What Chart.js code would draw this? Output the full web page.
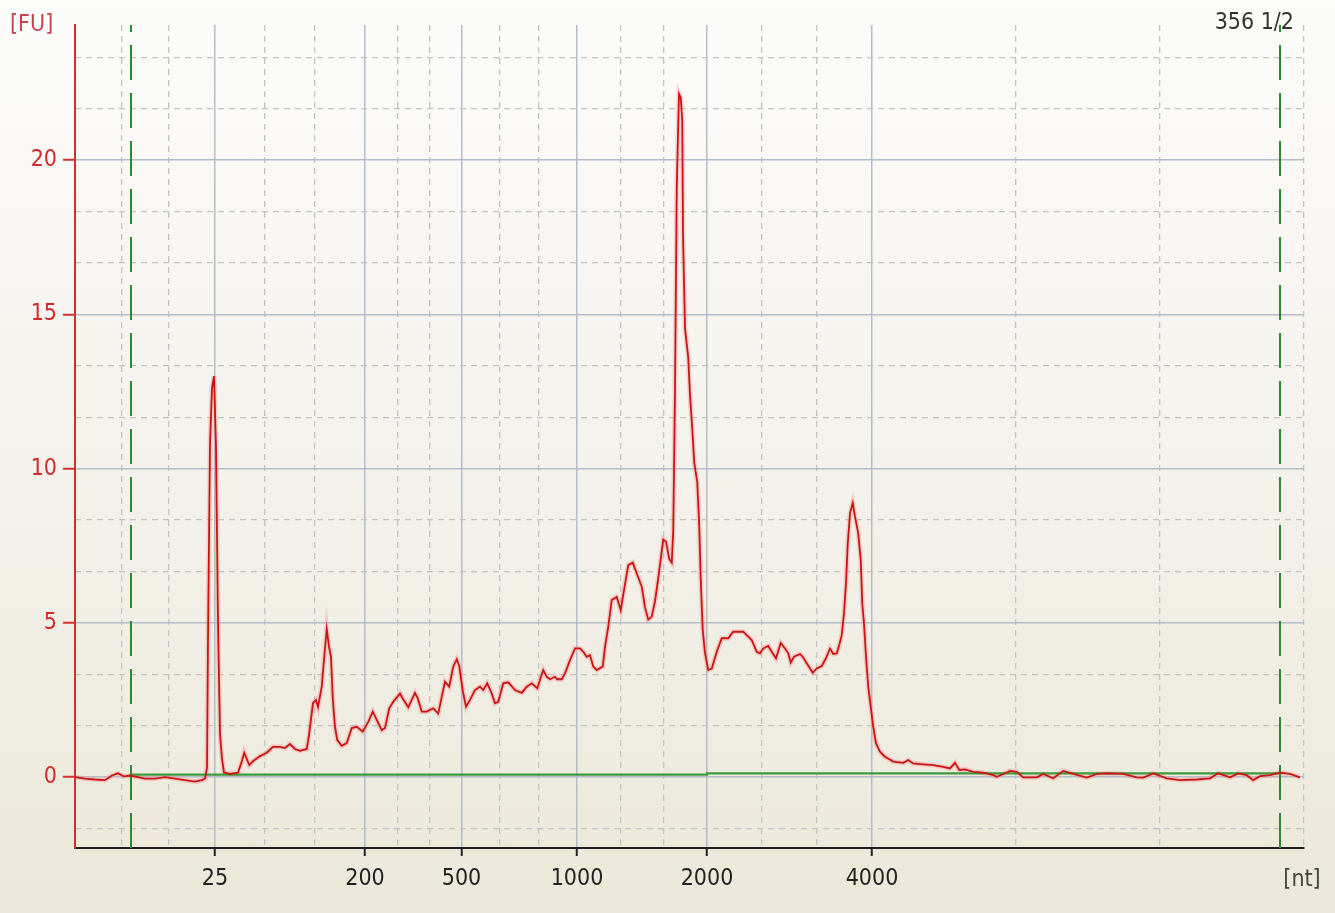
<!DOCTYPE html>
<html>
<head>
<meta charset="utf-8">
<title>Electropherogram</title>
<script src="https://cdn.jsdelivr.net/npm/chart.js@4.4.1/dist/chart.umd.min.js"></script>
<style>
    html, body { margin: 0; padding: 0; }
    body {
        width: 1335px;
        height: 913px;
        overflow: hidden;
        background: linear-gradient(to bottom, #fcfcfb 0%, #f4f2ec 50%, #ebe8d9 100%);
    }
    canvas { display: block; }
</style>
</head>
<body>
<canvas id="chart" width="1335" height="913"></canvas>
<script>
// migration time (s) and fluorescence (FU)
const traceTime = [
    20.00, 20.40, 20.80, 21.20, 21.48, 21.72, 21.96, 22.20, 22.52, 22.80,
    23.20, 23.60, 24.00, 24.40, 24.80, 25.08, 25.20, 25.28, 25.32, 25.40,
    25.48, 25.56, 25.64, 25.72, 25.80, 25.88, 25.96, 26.20, 26.52, 26.67,
    26.77, 26.97, 27.13, 27.40, 27.67, 27.92, 28.20, 28.40, 28.60, 28.80,
    29.00, 29.27, 29.36, 29.52, 29.64, 29.72, 29.87, 29.97, 30.07, 30.16,
    30.24, 30.31, 30.40, 30.49, 30.67, 30.87, 31.07, 31.27, 31.51, 31.73,
    31.91, 32.07, 32.27, 32.40, 32.57, 32.73, 33.00, 33.13, 33.33, 33.60,
    33.71, 33.87, 34.07, 34.33, 34.53, 34.67, 34.80, 34.97, 35.13, 35.27,
    35.37, 35.51, 35.64, 35.80, 36.00, 36.20, 36.33, 36.49, 36.67, 36.80,
    36.93, 37.13, 37.33, 37.60, 37.87, 38.07, 38.27, 38.49, 38.73, 38.87,
    39.00, 39.20, 39.29, 39.47, 39.60, 39.80, 40.00, 40.20, 40.33, 40.47,
    40.60, 40.73, 40.87, 41.11, 41.20, 41.33, 41.47, 41.67, 41.83, 41.96,
    42.13, 42.31, 42.47, 42.67, 42.80, 42.93, 43.07, 43.20, 43.33, 43.53,
    43.64, 43.77, 43.87, 43.93, 44.00, 44.07, 44.16, 44.23, 44.29, 44.32,
    44.40, 44.53, 44.60, 44.69, 44.77, 44.89, 44.97, 45.03, 45.11, 45.20,
    45.33, 45.47, 45.67, 45.87, 46.13, 46.33, 46.73, 46.87, 47.07, 47.27,
    47.40, 47.53, 47.73, 47.87, 48.04, 48.23, 48.40, 48.53, 48.63, 48.76,
    49.00, 49.11, 49.27, 49.51, 49.67, 49.87, 50.04, 50.20, 50.33, 50.47,
    50.57, 50.67, 50.76, 50.84, 50.91, 51.00, 51.11, 51.20, 51.33, 51.43,
    51.49, 51.56, 51.64, 51.73, 51.83, 51.93, 52.04, 52.20, 52.40, 52.73,
    53.13, 53.33, 53.53, 53.80, 54.33, 54.73, 55.00, 55.20, 55.37, 55.60,
    55.93, 56.33, 56.73, 56.87, 57.13, 57.40, 57.67, 57.93, 58.47, 58.73,
    59.13, 59.53, 59.93, 60.47, 60.87, 61.27, 61.93, 62.47, 62.73, 63.13,
    63.67, 64.20, 64.87, 65.40, 65.73, 66.20, 66.53, 66.87, 67.13, 67.40,
    67.80, 68.20, 68.60, 69.00
];
const traceFU = [
    0.00, -0.05, -0.08, -0.10, 0.05, 0.12, 0.02, 0.05, 0.00, -0.05,
    -0.05, 0.00, -0.05, -0.10, -0.15, -0.10, -0.05, 0.30, 4.50, 10.80,
    12.60, 13.00, 10.70, 5.00, 1.40, 0.60, 0.15, 0.10, 0.14, 0.50,
    0.79, 0.39, 0.52, 0.68, 0.79, 0.98, 0.98, 0.94, 1.07, 0.91,
    0.85, 0.91, 1.36, 2.40, 2.50, 2.27, 2.93, 3.90, 4.80, 4.22,
    3.90, 2.56, 1.63, 1.20, 1.01, 1.10, 1.59, 1.63, 1.47, 1.79,
    2.12, 1.85, 1.52, 1.59, 2.23, 2.44, 2.71, 2.52, 2.26, 2.73,
    2.55, 2.12, 2.12, 2.23, 2.06, 2.60, 3.09, 2.93, 3.58, 3.82,
    3.60, 2.80, 2.28, 2.50, 2.82, 2.93, 2.82, 3.04, 2.71, 2.39,
    2.44, 3.04, 3.07, 2.82, 2.73, 2.93, 3.04, 2.88, 3.47, 3.25,
    3.17, 3.25, 3.17, 3.17, 3.36, 3.79, 4.17, 4.17, 4.06, 3.90,
    3.95, 3.58, 3.47, 3.58, 4.22, 4.87, 5.74, 5.84, 5.41, 6.06,
    6.87, 6.95, 6.60, 6.17, 5.50, 5.10, 5.20, 5.70, 6.45, 7.70,
    7.63, 7.07, 6.95, 8.00, 12.50, 19.10, 22.15, 22.03, 21.28, 17.60,
    14.55, 13.60, 12.38, 11.30, 10.19, 9.56, 8.14, 6.39, 4.76, 4.02,
    3.47, 3.52, 4.06, 4.50, 4.50, 4.71, 4.71, 4.60, 4.44, 4.06,
    4.01, 4.17, 4.25, 4.06, 3.85, 4.35, 4.17, 4.01, 3.71, 3.90,
    3.99, 3.90, 3.69, 3.38, 3.52, 3.60, 3.85, 4.17, 3.99, 4.01,
    4.28, 4.60, 5.31, 6.28, 7.57, 8.55, 8.89, 8.44, 7.90, 7.03,
    5.63, 4.98, 3.90, 2.93, 2.28, 1.63, 1.09, 0.82, 0.66, 0.50,
    0.46, 0.55, 0.44, 0.42, 0.39, 0.33, 0.28, 0.46, 0.23, 0.25,
    0.17, 0.14, 0.06, 0.01, 0.10, 0.20, 0.17, -0.01, -0.01, 0.10,
    -0.04, 0.20, 0.10, -0.02, 0.10, 0.12, 0.10, -0.01, -0.02, 0.12,
    -0.04, -0.10, -0.08, -0.04, 0.12, -0.01, 0.12, 0.06, -0.10, 0.03,
    0.06, 0.14, 0.10, -0.01
];

// ladder sizes (nt) and where they sit on the time axis
const ladderSizes = ['25', '200', '500', '1000', '2000', '4000'];
const ladderTimes = [25.60, 31.60, 35.46, 40.08, 45.28, 51.88];
const minorTimes = [21.87, 23.73, 27.60, 29.60, 32.89, 34.17, 37.00, 38.54,
                    41.81, 43.55, 47.48, 49.68, 57.64, 63.40, 69.16];

// y ticks
const fuTicks = [0, 5, 10, 15, 20];

// lower / upper marker and baseline
const markerTimes = [22.24, 68.20];
const baselineTimes = [22.24, 45.28, 45.28, 68.20];
const baselineFU = [0.08, 0.08, 0.12, 0.12];

const xMin = 20, xMax = 69.16;
const yMin = -2.30, yMax = 24.38;

const fontFamily = "'DejaVu Sans Condensed', 'DejaVu Sans', sans-serif";

// dashed minor lines every 5/3 FU, leaving out the major ones
const fuMinor = [];
for (let k = -1; k <= 14; k++) {
    if (k % 3 !== 0) fuMinor.push(k * 5 / 3);
}

const tracePoints = traceTime.map((t, i) => ({ x: t, y: traceFU[i] }));

const cornerText = {
    id: 'cornerText',
    afterDraw(chart) {
        const ctx = chart.ctx;
        ctx.save();
        ctx.font = '23px ' + fontFamily;
        ctx.textBaseline = 'middle';
        ctx.fillStyle = '#c9404f';
        ctx.textAlign = 'left';
        ctx.fillText('[FU]', 10, 25);
        ctx.fillStyle = '#333333';
        ctx.textAlign = 'right';
        ctx.fillText('356 1/2', 1294, 23);
        ctx.fillStyle = '#444444';
        ctx.textAlign = 'center';
        ctx.fillText('[nt]', 1302, 880);
        ctx.restore();
    }
};

const ctx = document.getElementById('chart').getContext('2d');
new Chart(ctx, {
    type: 'line',
    data: {
        datasets: [
            {
                label: 'trace',
                data: tracePoints,
                borderColor: '#c91414',
                borderWidth: 1.8,
                pointRadius: 0,
                tension: 0,
                order: 0
            },
            {
                label: 'halo',
                data: tracePoints,
                borderColor: 'rgba(245, 140, 140, 0.35)',
                borderWidth: 5,
                pointRadius: 0,
                tension: 0,
                order: 3
            },
            {
                label: 'baseline',
                data: baselineTimes.map((t, i) => ({ x: t, y: baselineFU[i] })),
                borderColor: '#3c9a3c',
                borderWidth: 2.2,
                pointRadius: 0,
                order: 1
            },
            {
                label: 'lower marker',
                data: [{ x: markerTimes[0], y: yMin }, { x: markerTimes[0], y: yMax }],
                borderColor: '#2f872f',
                borderWidth: 2,
                borderDash: [35, 13],
                pointRadius: 0,
                order: 2
            },
            {
                label: 'upper marker',
                data: [{ x: markerTimes[1], y: yMin }, { x: markerTimes[1], y: yMax }],
                borderColor: '#2f872f',
                borderWidth: 2,
                borderDash: [35, 13],
                pointRadius: 0,
                order: 2
            }
        ]
    },
    options: {
        responsive: false,
        animation: false,
        layout: { padding: { left: 0, top: 25, right: 31, bottom: 0 } },
        plugins: {
            legend: { display: false },
            tooltip: { enabled: false }
        },
        scales: {
            x: {
                type: 'linear',
                position: 'bottom',
                min: xMin,
                max: xMax,
                afterBuildTicks: s => { s.ticks = ladderTimes.map(v => ({ value: v })); },
                afterFit: s => { s.height = 65; },
                ticks: {
                    autoSkip: false,
                    maxRotation: 0,
                    color: '#222222',
                    padding: 9,
                    font: { family: fontFamily, size: 23 },
                    callback: (v, i) => ladderSizes[i]
                },
                grid: {
                    color: '#b3bdca',
                    lineWidth: 1.5,
                    tickColor: '#222222',
                    tickLength: 8,
                    tickWidth: 2
                },
                border: { color: '#1e1e1e', width: 2 }
            },
            xMinor: {
                type: 'linear',
                position: 'bottom',
                min: xMin,
                max: xMax,
                afterBuildTicks: s => { s.ticks = minorTimes.map(v => ({ value: v })); },
                afterFit: s => { s.height = 0; },
                ticks: { display: false },
                grid: { color: '#c2c2c2', lineWidth: 1.3, drawTicks: false },
                border: { display: false, dash: [6, 5] }
            },
            y: {
                type: 'linear',
                position: 'left',
                min: yMin,
                max: yMax,
                afterBuildTicks: s => { s.ticks = fuTicks.map(v => ({ value: v })); },
                afterFit: s => { s.width = 75; },
                ticks: {
                    color: '#d02a2a',
                    padding: 6,
                    font: { family: fontFamily, size: 23 }
                },
                grid: {
                    color: '#b3bdca',
                    lineWidth: 1.5,
                    tickColor: '#d03030',
                    tickLength: 12,
                    tickWidth: 2
                },
                border: { color: '#d03030', width: 2 }
            },
            yMinor: {
                type: 'linear',
                position: 'left',
                min: yMin,
                max: yMax,
                afterBuildTicks: s => { s.ticks = fuMinor.map(v => ({ value: v })); },
                afterFit: s => { s.width = 0; },
                ticks: { display: false },
                grid: { color: '#c2c2c2', lineWidth: 1.3, drawTicks: false },
                border: { display: false, dash: [6, 5] }
            }
        }
    },
    plugins: [cornerText]
});
</script>
</body>
</html>
